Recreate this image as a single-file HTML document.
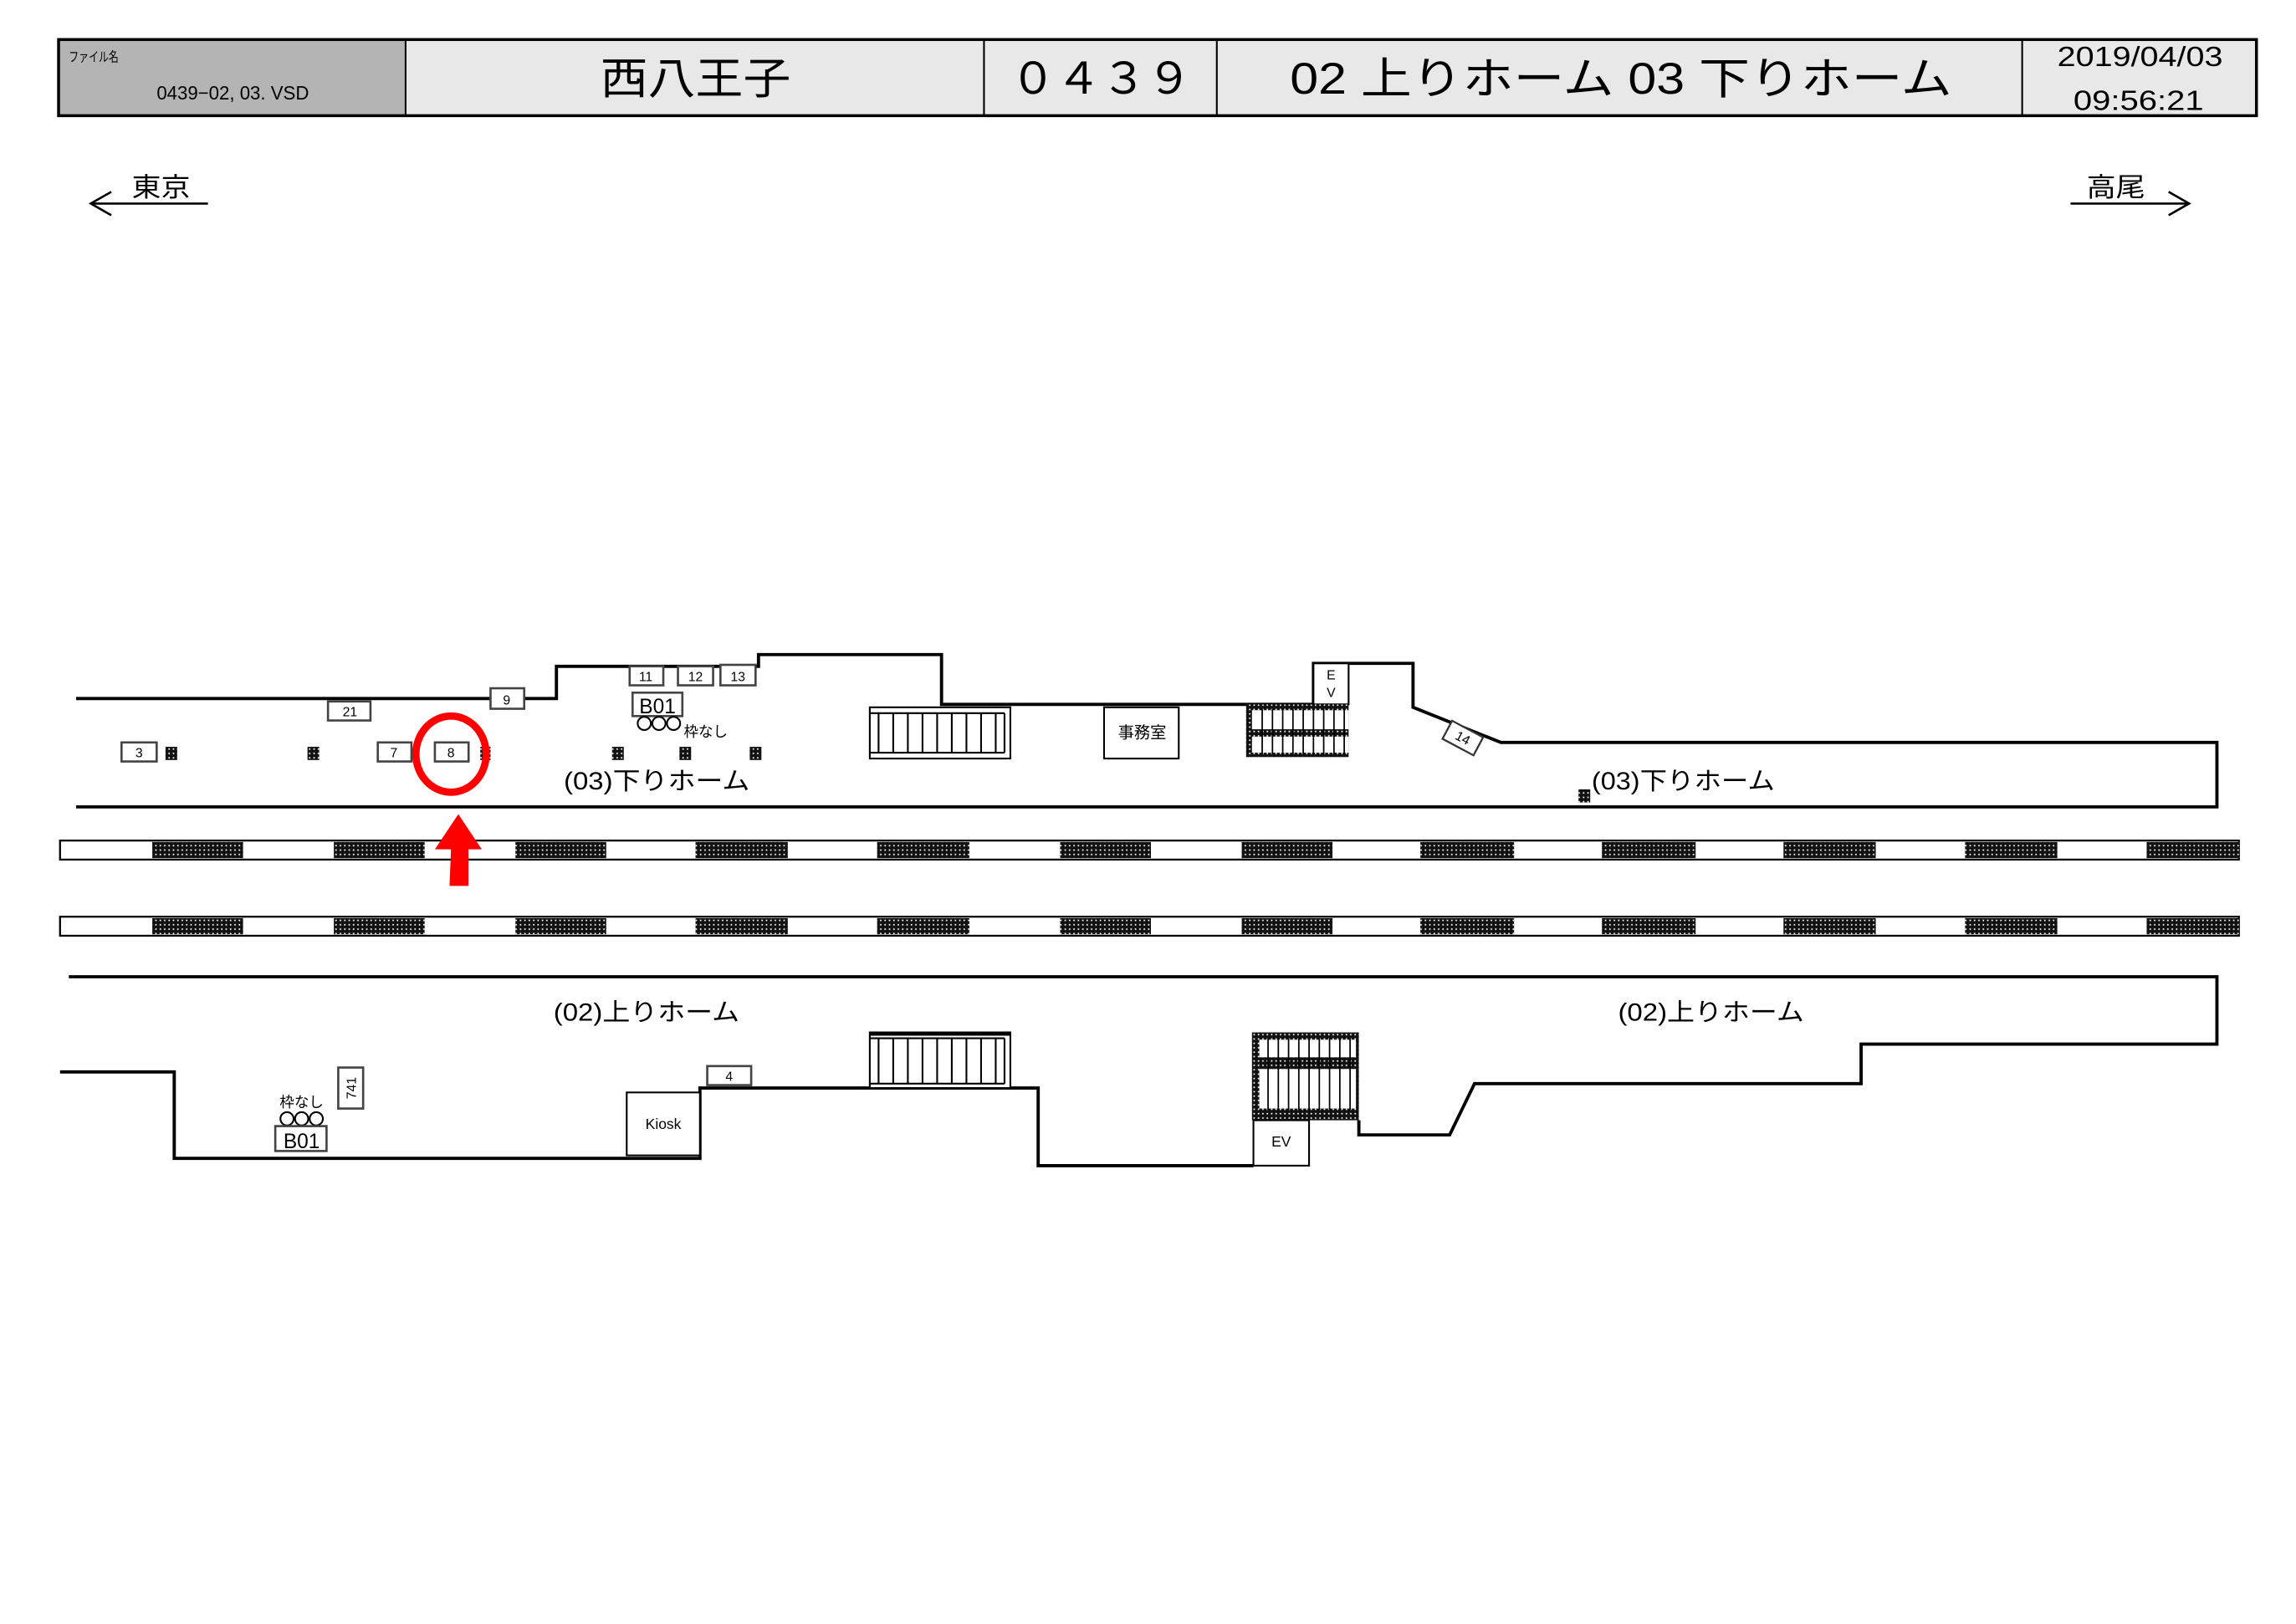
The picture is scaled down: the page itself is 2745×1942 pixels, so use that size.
<!DOCTYPE html>
<html><head><meta charset="utf-8"><style>
html,body{margin:0;padding:0;background:#fff;}
svg{display:block;}
text{font-family:"Liberation Sans","Noto Sans CJK JP",sans-serif;fill:#000;}
</style></head><body>
<svg width="2745" height="1942" viewBox="0 0 1568 1109" preserveAspectRatio="none" xmlns="http://www.w3.org/2000/svg">
<defs>
<pattern id="dp" width="3" height="3" patternUnits="userSpaceOnUse">
<rect width="3" height="3" fill="#111"/><rect x="1" y="1" width="1" height="1" fill="#fff"/>
</pattern>
</defs>
<rect width="1568" height="1109" fill="#fff"/>
<!-- header -->
<rect x="40" y="27" width="237" height="52" fill="#b4b4b4"/>
<rect x="277" y="27" width="1264" height="52" fill="#e8e8e8"/>
<rect x="40" y="27" width="1501" height="52" fill="none" stroke="#000" stroke-width="2"/>
<g stroke="#000" stroke-width="1.2">
<line x1="277" y1="27" x2="277" y2="79"/><line x1="672" y1="27" x2="672" y2="79"/>
<line x1="831" y1="27" x2="831" y2="79"/><line x1="1381" y1="27" x2="1381" y2="79"/>
</g>
<text x="47" y="42" font-size="9" textLength="34" lengthAdjust="spacingAndGlyphs">ファイル名</text>
<text x="107" y="68" font-size="13" textLength="104" lengthAdjust="spacingAndGlyphs">0439−02, 03. VSD</text>
<text x="410" y="64" font-size="30" textLength="130" lengthAdjust="spacingAndGlyphs">西八王子</text>
<text x="690" y="64" font-size="30" textLength="124" lengthAdjust="spacingAndGlyphs">０４３９</text>
<text x="881" y="64" font-size="30" textLength="452" lengthAdjust="spacingAndGlyphs">02 上りホーム 03 下りホーム</text>
<text x="1405" y="45" font-size="19" textLength="113" lengthAdjust="spacingAndGlyphs">2019/04/03</text>
<text x="1416" y="75" font-size="19" textLength="89" lengthAdjust="spacingAndGlyphs">09:56:21</text>
<!-- direction arrows -->
<text x="90" y="134" font-size="18" textLength="40" lengthAdjust="spacingAndGlyphs">東京</text>
<g stroke="#000" stroke-width="1.5" fill="none">
<line x1="62" y1="139" x2="142" y2="139"/><polyline points="76,131 62,139 76,147"/>
<line x1="1414" y1="139" x2="1495" y2="139"/><polyline points="1481,131 1495,139 1481,147"/>
</g>
<text x="1425" y="134" font-size="18" textLength="40" lengthAdjust="spacingAndGlyphs">高尾</text>

<!-- upper platform outline -->
<g stroke="#000" stroke-width="2.2" fill="none">
<polyline points="52,477 380,477 380,455 518,455 518,447 643,447 643,481 897,481"/>
<polyline points="897,481 897,453 965,453 965,483 1025,507 1514,507 1514,551 52,551"/>
</g>
<rect x="897" y="453" width="24" height="28" fill="#fff" stroke="#000" stroke-width="1.2"/>
<text x="906" y="464" font-size="9">E</text><text x="906" y="476" font-size="9">V</text>
<!-- small boxes -->
<g fill="#fff" stroke="#444" stroke-width="1.5">
<rect x="335" y="470" width="23" height="14"/>
<rect x="430" y="455" width="23" height="13"/><rect x="463" y="455" width="24" height="13"/><rect x="492" y="454" width="24" height="14"/>
<rect x="432" y="473" width="34" height="16"/>
<rect x="224" y="479" width="29" height="13"/>
<rect x="83" y="507" width="24" height="13"/><rect x="258" y="507" width="23" height="13"/><rect x="297" y="507" width="23" height="13"/>
</g>
<g font-size="9" text-anchor="middle">
<text x="346" y="481">9</text><text x="441" y="465">11</text><text x="475" y="465">12</text><text x="504" y="465">13</text>
<text x="239" y="489">21</text><text x="95" y="517">3</text><text x="269" y="517">7</text><text x="308" y="517">8</text>
</g>
<text x="449" y="487" font-size="14" text-anchor="middle">B01</text>
<g fill="#fff" stroke="#000" stroke-width="1.2">
<circle cx="440" cy="494" r="4.5"/><circle cx="450" cy="494" r="4.5"/><circle cx="460" cy="494" r="4.5"/>
<circle cx="196" cy="764" r="4.5"/><circle cx="206" cy="764" r="4.5"/><circle cx="216" cy="764" r="4.5"/>
</g>
<text x="467" y="503" font-size="10">枠なし</text>
<g fill="url(#dp)">
<rect x="113" y="510" width="8" height="9"/><rect x="210" y="510" width="8" height="9"/><rect x="328" y="510" width="7" height="9"/>
<rect x="418" y="510" width="8" height="9"/><rect x="464" y="510" width="8" height="9"/><rect x="512" y="510" width="8" height="9"/>
<rect x="1078" y="539" width="8" height="9"/>
</g>
<text x="385" y="539" font-size="17" textLength="127" lengthAdjust="spacingAndGlyphs">(03)下りホーム</text>
<text x="1087" y="539" font-size="17" textLength="125" lengthAdjust="spacingAndGlyphs">(03)下りホーム</text>
<!-- left upper escalator -->
<rect x="594" y="483" width="96" height="35" fill="#fff" stroke="#000" stroke-width="1.2"/>
<g stroke="#000" stroke-width="1.2">
<line x1="594" y1="487" x2="686" y2="487"/><line x1="594" y1="514" x2="686" y2="514"/>
<line x1="600" y1="487" x2="600" y2="514"/><line x1="610" y1="487" x2="610" y2="514"/><line x1="620" y1="487" x2="620" y2="514"/><line x1="630" y1="487" x2="630" y2="514"/><line x1="640" y1="487" x2="640" y2="514"/><line x1="650" y1="487" x2="650" y2="514"/><line x1="660" y1="487" x2="660" y2="514"/><line x1="670" y1="487" x2="670" y2="514"/><line x1="680" y1="487" x2="680" y2="514"/><line x1="686" y1="487" x2="686" y2="514"/>
</g>
<!-- office -->
<rect x="754" y="483" width="51" height="35" fill="#fff" stroke="#000" stroke-width="1.2"/>
<text x="780" y="504" font-size="11" text-anchor="middle">事務室</text>
<!-- right upper escalator -->
<rect x="851" y="481" width="70" height="36" fill="url(#dp)"/>
<rect x="855" y="485" width="66" height="13" fill="#fff"/><rect x="855" y="503" width="66" height="11" fill="#fff"/>
<g stroke="#000" stroke-width="1">
<line x1="862" y1="484" x2="862" y2="515"/><line x1="869" y1="484" x2="869" y2="515"/><line x1="876" y1="484" x2="876" y2="515"/><line x1="883" y1="484" x2="883" y2="515"/><line x1="890" y1="484" x2="890" y2="515"/><line x1="897" y1="484" x2="897" y2="515"/><line x1="904" y1="484" x2="904" y2="515"/><line x1="911" y1="484" x2="911" y2="515"/><line x1="918" y1="484" x2="918" y2="515"/>
</g>
<!-- 14 box -->
<g transform="translate(999,504) rotate(28)">
<rect x="-12" y="-7" width="24" height="14" fill="#fff" stroke="#333" stroke-width="1.3"/>
<text x="0" y="3" font-size="9" text-anchor="middle">14</text>
</g>

<!-- tracks -->
<g stroke="#000" stroke-width="1.3" fill="#fff">
<rect x="41" y="574" width="1488" height="13"/><rect x="41" y="626" width="1488" height="13"/>
</g>
<g fill="url(#dp)">
<rect x="104" y="575" width="62" height="11"/><rect x="228" y="575" width="62" height="11"/><rect x="352" y="575" width="62" height="11"/><rect x="475" y="575" width="63" height="11"/><rect x="599" y="575" width="63" height="11"/><rect x="724" y="575" width="62" height="11"/><rect x="848" y="575" width="62" height="11"/><rect x="970" y="575" width="64" height="11"/><rect x="1094" y="575" width="64" height="11"/><rect x="1218" y="575" width="63" height="11"/><rect x="1342" y="575" width="63" height="11"/><rect x="1466" y="575" width="63" height="11"/>
<rect x="104" y="627" width="62" height="11"/><rect x="228" y="627" width="62" height="11"/><rect x="352" y="627" width="62" height="11"/><rect x="475" y="627" width="63" height="11"/><rect x="599" y="627" width="63" height="11"/><rect x="724" y="627" width="62" height="11"/><rect x="848" y="627" width="62" height="11"/><rect x="970" y="627" width="64" height="11"/><rect x="1094" y="627" width="64" height="11"/><rect x="1218" y="627" width="63" height="11"/><rect x="1342" y="627" width="63" height="11"/><rect x="1466" y="627" width="63" height="11"/>
</g>

<!-- red marker -->
<ellipse cx="308" cy="515" rx="24" ry="26" fill="none" stroke="#f00" stroke-width="5"/>
<polygon points="313,556 297,580 308,580 307,605 320,605 320,580 329,580" fill="#f00"/>

<!-- lower platform -->
<g stroke="#000" stroke-width="2.2" fill="none">
<polyline points="47,667 1514,667 1514,713 1271,713 1271,740 1007,740 990,775 928,775 928,765"/>
<polyline points="41,732 119,732 119,791 478,791 478,743 709,743 709,796 856,796"/>
</g>
<text x="378" y="697" font-size="17" textLength="127" lengthAdjust="spacingAndGlyphs">(02)上りホーム</text>
<text x="1105" y="697" font-size="17" textLength="127" lengthAdjust="spacingAndGlyphs">(02)上りホーム</text>
<rect x="428" y="746" width="50" height="43" fill="#fff" stroke="#000" stroke-width="1.2"/>
<text x="453" y="771" font-size="10" text-anchor="middle">Kiosk</text>
<rect x="483" y="728" width="30" height="13" fill="#fff" stroke="#444" stroke-width="1.5"/>
<text x="498" y="738" font-size="9" text-anchor="middle">4</text>
<rect x="231" y="729" width="17" height="28" fill="#fff" stroke="#444" stroke-width="1.5"/>
<text transform="translate(243,743) rotate(-90)" font-size="9" text-anchor="middle">741</text>
<text x="191" y="756" font-size="10">枠なし</text>
<rect x="188" y="769" width="35" height="17" fill="#fff" stroke="#444" stroke-width="1.5"/>
<text x="206" y="784" font-size="14" text-anchor="middle">B01</text>
<!-- lower left escalator -->
<rect x="594" y="705" width="96" height="38" fill="#fff" stroke="#000" stroke-width="1.2"/>
<g stroke="#000" stroke-width="1.2">
<line x1="594" y1="706" x2="690" y2="706" stroke-width="2.5"/><line x1="594" y1="709" x2="686" y2="709"/><line x1="594" y1="740" x2="686" y2="740"/>
<line x1="600" y1="709" x2="600" y2="740"/><line x1="610" y1="709" x2="610" y2="740"/><line x1="620" y1="709" x2="620" y2="740"/><line x1="630" y1="709" x2="630" y2="740"/><line x1="640" y1="709" x2="640" y2="740"/><line x1="650" y1="709" x2="650" y2="740"/><line x1="660" y1="709" x2="660" y2="740"/><line x1="670" y1="709" x2="670" y2="740"/><line x1="680" y1="709" x2="680" y2="740"/><line x1="686" y1="709" x2="686" y2="740"/>
</g>
<!-- lower right escalator -->
<rect x="855" y="705" width="73" height="60" fill="url(#dp)"/>
<rect x="860" y="710" width="66" height="12" fill="#fff"/><rect x="860" y="730" width="66" height="27" fill="#fff"/>
<g stroke="#000" stroke-width="1">
<line x1="866" y1="709" x2="866" y2="758"/><line x1="873" y1="709" x2="873" y2="758"/><line x1="880" y1="709" x2="880" y2="758"/><line x1="887" y1="709" x2="887" y2="758"/><line x1="894" y1="709" x2="894" y2="758"/><line x1="901" y1="709" x2="901" y2="758"/><line x1="908" y1="709" x2="908" y2="758"/><line x1="915" y1="709" x2="915" y2="758"/><line x1="922" y1="709" x2="922" y2="758"/>
</g>
<rect x="856" y="765" width="38" height="31" fill="#fff" stroke="#000" stroke-width="1.2"/>
<text x="875" y="783" font-size="10" text-anchor="middle">EV</text>
</svg>
</body></html>
